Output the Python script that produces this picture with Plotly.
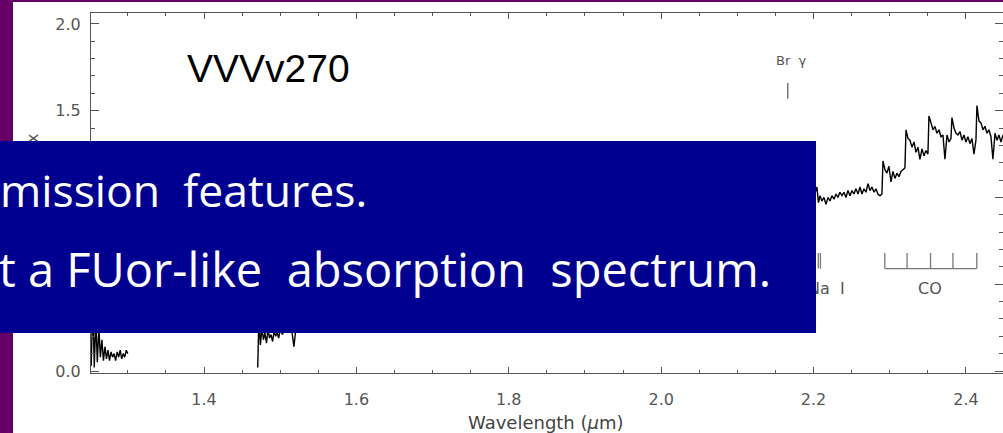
import plotly.graph_objects as go

# ---------------- data ----------------
wl_J = [1.252, 1.254, 1.256, 1.258, 1.260, 1.262, 1.264, 1.266, 1.268, 1.270,
        1.272, 1.274, 1.276, 1.278, 1.280, 1.282, 1.284, 1.286, 1.288, 1.290,
        1.292, 1.294, 1.296, 1.298, 1.300]
flux_J = [0.03, 0.40, 0.02, 0.30, 0.05, 0.25, 0.08, 0.18, 0.06, 0.14,
          0.07, 0.12, 0.06, 0.11, 0.08, 0.10, 0.06, 0.11, 0.08, 0.12,
          0.07, 0.10, 0.08, 0.12, 0.10]

wl_H = [1.4705, 1.472, 1.474, 1.476, 1.478, 1.480, 1.482, 1.484, 1.486, 1.488,
        1.490, 1.492, 1.494, 1.496, 1.498, 1.500, 1.503, 1.506, 1.509, 1.512,
        1.515, 1.518, 1.521, 1.525, 1.54, 1.56, 1.58, 1.60, 1.62, 1.64,
        1.66, 1.68, 1.70, 1.72, 1.74, 1.76, 1.78, 1.80]
flux_H = [0.02, 0.30, 0.15, 0.25, 0.18, 0.22, 0.16, 0.24, 0.19, 0.21,
          0.17, 0.23, 0.20, 0.22, 0.19, 0.24, 0.21, 0.25, 0.22, 0.26,
          0.24, 0.14, 0.26, 0.28, 0.30, 0.34, 0.38, 0.42, 0.45, 0.48,
          0.52, 0.55, 0.58, 0.60, 0.63, 0.65, 0.66, 0.68]

wl_K = [1.95, 1.97, 1.99, 2.01, 2.03, 2.05, 2.07, 2.09, 2.11, 2.13,
        2.15, 2.166, 2.18, 2.19, 2.20,
        2.2031, 2.2044, 2.2064, 2.2084, 2.2110, 2.2136, 2.2163, 2.2189, 2.2215, 2.2241,
        2.2268, 2.2294, 2.2320, 2.2346, 2.2373, 2.2399, 2.2425, 2.2451, 2.2478, 2.2504,
        2.2530, 2.2556, 2.2583, 2.2609, 2.2635, 2.2661, 2.2688, 2.2714, 2.2740, 2.2766,
        2.2793, 2.2819, 2.2845, 2.2871, 2.2897, 2.2911, 2.2937, 2.2963, 2.2989, 2.3016,
        2.3042, 2.3068, 2.3094, 2.3121, 2.3147, 2.3173, 2.3199, 2.3213, 2.3239, 2.3265,
        2.3291, 2.3318, 2.3344, 2.3370, 2.3396, 2.3423, 2.3449, 2.3475, 2.3501, 2.3514,
        2.3541, 2.3567, 2.3593, 2.3619, 2.3646, 2.3672, 2.3698, 2.3724, 2.3751, 2.3777,
        2.3803, 2.3816, 2.3843, 2.3869, 2.3895, 2.3921, 2.3948, 2.3974, 2.4000, 2.4026,
        2.4052, 2.4079, 2.4105, 2.4131, 2.4144, 2.4171, 2.4197, 2.4223, 2.4249, 2.4276,
        2.4302, 2.4328, 2.4354, 2.4381, 2.4407, 2.4433, 2.4459, 2.4486]
flux_K = [0.70, 0.78, 0.82, 0.85, 0.88, 0.90, 0.92, 0.93, 0.95, 0.96,
          0.97, 1.02, 0.98, 1.00, 1.01,
          1.04, 1.06, 0.97, 1.01, 0.98, 1.00, 0.96, 1.00, 0.98, 1.01,
          0.99, 1.02, 1.00, 1.03, 1.01, 1.03, 1.00, 1.04, 1.01, 1.04,
          1.02, 1.05, 1.02, 1.06, 1.02, 1.05, 1.03, 1.08, 1.04, 1.06,
          1.03, 1.05, 1.02, 1.01, 1.02, 1.21, 1.16, 1.14, 1.18, 1.09,
          1.15, 1.11, 1.14, 1.12, 1.15, 1.16, 1.17, 1.39, 1.34, 1.33,
          1.29, 1.32, 1.26, 1.29, 1.22, 1.28, 1.24, 1.27, 1.25, 1.47,
          1.42, 1.39, 1.41, 1.37, 1.39, 1.35, 1.36, 1.22, 1.36, 1.32,
          1.34, 1.46, 1.40, 1.37, 1.36, 1.38, 1.33, 1.36, 1.32, 1.35,
          1.31, 1.34, 1.25, 1.33, 1.53, 1.44, 1.43, 1.39, 1.41, 1.37,
          1.39, 1.35, 1.22, 1.37, 1.33, 1.36, 1.32, 1.36]

br_gamma = 2.1661
na_lines = [2.2062, 2.2090]
co_heads = [2.2935, 2.3227, 2.3535, 2.3829, 2.4142]

x_tickvals = [1.4, 1.6, 1.8, 2.0, 2.2, 2.4]
y_tickvals = [0.0, 0.5, 1.0, 1.5, 2.0]

object_name = "VVVv270"
box_line1 = "mission \u00a0features."
box_line2 = "t a FUor-like \u00a0absorption \u00a0spectrum."

# ---------------- layout helpers (pixel -> paper) ----------------
W, H = 1003, 433
ML, MR, MT, MB = 91, 0, 13, 60
PW, PH = W - ML - MR, H - MT - MB


def pxx(px):
    return (px - ML) / PW


def pxy(py):
    return (H - MB - py) / PH


AX = "#555555"
TICKFONT = dict(family="DejaVu Sans", size=16, color=AX)

fig = go.Figure()

spec_x = wl_J + [None] + wl_H + [None] + wl_K
spec_y = flux_J + [None] + flux_H + [None] + flux_K
fig.add_trace(go.Scatter(x=spec_x, y=spec_y, mode="lines",
                         line=dict(color="black", width=1.4),
                         connectgaps=False, hoverinfo="skip"))

mark_col = "#777777"
mark_lo, mark_hi = 0.59, 0.68
# Br gamma marker
fig.add_trace(go.Scatter(x=[br_gamma, br_gamma], y=[1.57, 1.66], mode="lines",
                         line=dict(color=mark_col, width=1.5), hoverinfo="skip"))
# Na I doublet
for w in na_lines:
    fig.add_trace(go.Scatter(x=[w, w], y=[mark_lo, mark_hi], mode="lines",
                             line=dict(color=mark_col, width=1.3), hoverinfo="skip"))
# CO bandheads bracket
for w in co_heads:
    fig.add_trace(go.Scatter(x=[w, w], y=[mark_lo, mark_hi], mode="lines",
                             line=dict(color=mark_col, width=1.3), hoverinfo="skip"))
fig.add_trace(go.Scatter(x=[co_heads[0], co_heads[-1]], y=[mark_lo, mark_lo], mode="lines",
                         line=dict(color=mark_col, width=1.3), hoverinfo="skip"))

axis_common = dict(showline=True, linecolor=AX, linewidth=1, mirror="allticks",
                   ticks="inside", tickcolor=AX, tickwidth=1,
                   showgrid=False, zeroline=False, tickfont=TICKFONT,
                   tickformat=".1f")

fig.update_xaxes(range=[1.2517, 2.4486], tickvals=x_tickvals, ticklen=6,
                 minor=dict(dtick=0.05, tick0=1.4, ticklen=3, ticks="inside",
                            tickcolor=AX, showgrid=False),
                 ticklabelstandoff=12, **axis_common)
fig.update_yaxes(range=[-0.0115, 2.063], tickvals=y_tickvals, ticklen=8,
                 minor=dict(dtick=0.1, tick0=0, ticklen=4, ticks="inside",
                            tickcolor=AX, showgrid=False),
                 ticklabelstandoff=6, **axis_common)

ann = []
# y-axis title (mostly hidden under the blue box)
ann.append(dict(text="Normalized Flux", textangle=-90, xref="paper", yref="paper",
                x=pxx(32), y=pxy(131), xanchor="center", yanchor="top",
                showarrow=False, font=dict(family="DejaVu Sans", size=16, color=AX)))
# x-axis title
ann.append(dict(text="Wavelength (<i>\u03bc</i>m)", xref="paper", yref="paper",
                x=pxx(546), y=pxy(422), xanchor="center", yanchor="middle",
                showarrow=False, font=dict(family="DejaVu Sans", size=18, color="#444444")))
# feature labels
ann.append(dict(text="Na \u00a0I", xref="x", yref="y", x=2.2165, y=0.473,
                xanchor="center", yanchor="middle", showarrow=False,
                font=dict(family="DejaVu Sans", size=16, color=AX)))
ann.append(dict(text="CO", xref="x", yref="y", x=2.353, y=0.473,
                xanchor="center", yanchor="middle", showarrow=False,
                font=dict(family="DejaVu Sans", size=16, color=AX)))
ann.append(dict(text="Br \u00a0\u03b3", xref="x", yref="y", x=2.171, y=1.79,
                xanchor="center", yanchor="middle", showarrow=False,
                font=dict(family="DejaVu Sans", size=13, color=AX)))
ann.append(dict(text=object_name, xref="paper", yref="paper",
                x=pxx(185), y=pxy(68.5), xanchor="left", yanchor="middle",
                showarrow=False, font=dict(family="Liberation Sans", size=39, color="black")))
# blue overlay box
ann.append(dict(text=" ", xref="paper", yref="paper", x=pxx(0), y=pxy(141),
                xanchor="left", yanchor="top", width=816, height=192,
                bgcolor="#000090", borderpad=0, borderwidth=0, showarrow=False,
                font=dict(size=10, color="#000090")))
ann.append(dict(text=box_line1, xref="paper", yref="paper", x=pxx(183), y=pxy(189),
                xanchor="center", yanchor="middle", showarrow=False,
                font=dict(family="Open Sans", size=44.5, color="white")))
ann.append(dict(text=box_line2, xref="paper", yref="paper", x=pxx(385), y=pxy(269),
                xanchor="center", yanchor="middle", showarrow=False,
                font=dict(family="Open Sans", size=47, color="white")))

shapes = [
    dict(type="rect", xref="paper", yref="paper", x0=pxx(0), x1=pxx(13), y0=pxy(H), y1=pxy(0),
         fillcolor="#660066", line=dict(width=0), layer="above"),
    dict(type="rect", xref="paper", yref="paper", x0=pxx(0), x1=pxx(W), y0=pxy(2), y1=pxy(0),
         fillcolor="#660066", line=dict(width=0), layer="above"),
]

fig.update_layout(width=W, height=H, margin=dict(l=ML, r=MR, t=MT, b=MB),
                  paper_bgcolor="white", plot_bgcolor="white", showlegend=False,
                  annotations=ann, shapes=shapes)

fig.write_html("out.html")
